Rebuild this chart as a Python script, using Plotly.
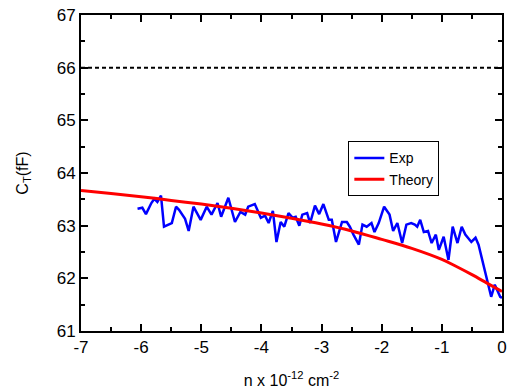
import plotly.graph_objects as go

exp_x = [-6.06, -5.98, -5.92, -5.83, -5.78, -5.73, -5.67, -5.62, -5.49, -5.42, -5.37, -5.32,
         -5.27, -5.21, -5.13, -5.01, -4.91, -4.83, -4.73, -4.67, -4.55, -4.44, -4.35, -4.27,
         -4.22, -4.11, -4.01, -3.94, -3.88, -3.81, -3.75, -3.68, -3.62, -3.55, -3.48, -3.43,
         -3.37, -3.32, -3.24, -3.19, -3.11, -3.04, -2.97, -2.88, -2.83, -2.76, -2.66, -2.58,
         -2.53, -2.47, -2.38, -2.32, -2.25, -2.17, -2.12, -2.05, -2.00, -1.96, -1.87, -1.81,
         -1.74, -1.66, -1.59, -1.51, -1.45, -1.41, -1.36, -1.30, -1.23, -1.17, -1.10, -1.05,
         -0.97, -0.89, -0.82, -0.74, -0.67, -0.61, -0.51, -0.44, -0.39, -0.33, -0.25, -0.18,
         -0.12, -0.03, 0.0]
exp_y = [63.32, 63.34, 63.22, 63.43, 63.51, 63.45, 63.57, 62.98, 63.05, 63.36, 63.30, 63.21,
         63.13, 62.90, 63.36, 63.11, 63.36, 63.21, 63.43, 63.17, 63.53, 63.07, 63.26, 63.21,
         63.36, 63.41, 63.15, 63.19, 63.05, 63.28, 62.69, 63.07, 62.98, 63.24, 63.15, 63.17,
         63.00, 63.21, 63.24, 63.05, 63.38, 63.22, 63.41, 63.11, 63.11, 62.69, 63.07, 63.07,
         62.98, 62.83, 62.64, 63.02, 62.98, 63.05, 62.88, 63.05, 63.21, 63.36, 63.21, 62.90,
         63.05, 62.67, 63.02, 63.05, 63.02, 62.98, 63.11, 62.88, 62.90, 62.67, 62.83, 62.54,
         62.79, 62.35, 62.98, 62.67, 62.98, 62.83, 62.69, 62.77, 62.64, 62.35, 62.01, 61.65,
         61.88, 61.65, 61.63]

theory_x = [-7, -6.5, -6, -5.5, -5, -4.5, -4, -3.5, -3, -2.5, -2, -1.5, -1, -0.75, -0.5, -0.25, 0]
theory_y = [63.67, 63.61, 63.55, 63.48, 63.41, 63.33, 63.24, 63.14, 63.03, 62.90, 62.74, 62.57,
            62.36, 62.22, 62.07, 61.91, 61.75]

ref_x = [-7, 0]
ref_y = [66, 66]

x_ticks = [-7, -6, -5, -4, -3, -2, -1, 0]
x_ticktext = ["-7", "-6", "-5", "-4", "-3", "-2", "-1", "0"]
y_ticks = [61, 62, 63, 64, 65, 66, 67]
y_ticktext = ["61", "62", "63", "64", "65", "66", "67"]

FONT = "Liberation Sans, Arial"

fig = go.Figure()
fig.add_trace(go.Scatter(x=ref_x, y=ref_y, mode="lines", showlegend=False,
                         line=dict(color="black", width=2, dash="4px,3px")))
fig.add_trace(go.Scatter(x=exp_x, y=exp_y, mode="lines", name="Exp",
                         line=dict(color="#0000ff", width=2.5)))
fig.add_trace(go.Scatter(x=theory_x, y=theory_y, mode="lines", name="Theory",
                         line=dict(color="#ff0000", width=3, shape="spline")))

axis_common = dict(showline=True, linecolor="black", linewidth=2, mirror="ticks",
                   ticks="inside", ticklen=7, tickwidth=2, tickcolor="black",
                   showgrid=False, zeroline=False,
                   tickfont=dict(family=FONT, size=17, color="black"),
                   minor=dict(ticks="inside", ticklen=4, tickwidth=2, tickcolor="black", dtick=0.5))

fig.update_xaxes(range=[-7, 0], tickvals=x_ticks, ticktext=x_ticktext,
                 title=dict(text="n x 10<sup>-12</sup> cm<sup>-2</sup>", standoff=18,
                            font=dict(family=FONT, size=16, color="black")),
                 **axis_common)
fig.update_yaxes(range=[61, 67], tickvals=y_ticks, ticktext=y_ticktext,
                 title=dict(text="C<sub>T</sub>(fF)", standoff=24,
                            font=dict(family=FONT, size=16, color="black")),
                 **axis_common)

fig.update_layout(
    width=510, height=392,
    margin=dict(l=81, r=3, t=15, b=61),
    plot_bgcolor="white", paper_bgcolor="white",
    legend=dict(x=0.635, y=0.6, xanchor="left", yanchor="top",
                bordercolor="black", borderwidth=1, bgcolor="white",
                font=dict(family=FONT, size=14, color="black"),
                tracegroupgap=0, itemwidth=30),
)

fig.write_html("out.html")
